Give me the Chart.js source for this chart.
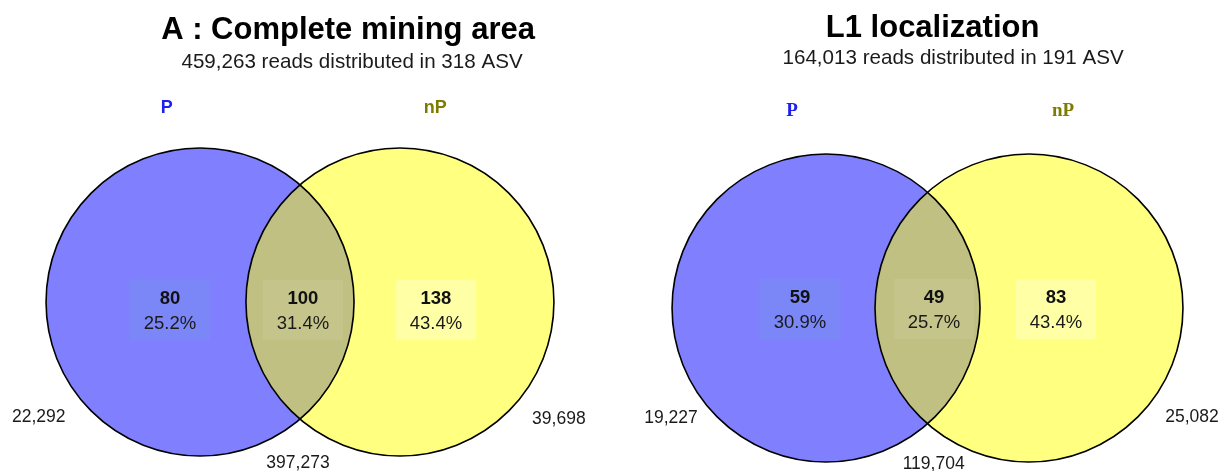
<!DOCTYPE html>
<html>
<head>
<meta charset="utf-8">
<script src="https://cdn.jsdelivr.net/npm/chart.js@4.4.0/dist/chart.umd.min.js"></script>
<style>
  html, body { margin: 0; padding: 0; background: #fff; }
  #wrap { position: relative; width: 1223px; height: 471px; }
  canvas { position: absolute; top: 0; }
</style>
</head>
<body>
<div id="wrap">
  <canvas id="venn-a" width="612" height="471" style="left:0"></canvas>
  <canvas id="venn-l1" width="611" height="471" style="left:612px"></canvas>
</div>
<script>
// sets and regions (P only, shared, nP only)
var setNames = ["P", "nP"];

// panel A : complete mining area
var titleA = "A : Complete mining area";
var totalReadsA = 459263;
var totalAsvA = 318;
var asvA = [80, 100, 138];
var pctA = [25.2, 31.4, 43.4];
var readsA = [22292, 397273, 39698];

// panel L1
var titleL1 = "L1 localization";
var totalReadsL1 = 164013;
var totalAsvL1 = 191;
var asvL1 = [59, 49, 83];
var pctL1 = [30.9, 25.7, 43.4];
var readsL1 = [19227, 119704, 25082];

// layout, in venn units (1 = circle radius)
var layoutA = {
    xRange: [-1.948, 2.026], yRange: [-1.097, 1.961], half: 0.649,
    title: [0.312, 1.705], subtitle: [0.338, 1.519],
    setLabels: [[-0.866, 1.227], [0.879, 1.227]], setFont: 'bold 18px "Liberation Sans", Arial, sans-serif',
    countX: [-0.844, 0.019, 0.883], countY: -0.013, pctY: -0.175, boxY: -0.052,
    readsPos: [[-1.696, -0.779], [-0.013, -1.078], [1.681, -0.792]]
};
var layoutL1 = {
    xRange: [-2.049, 1.919], yRange: [-1.058, 2.0], half: 0.659,
    title: [0.033, 1.758], subtitle: [0.166, 1.584],
    setLabels: [[-0.880, 1.247], [0.880, 1.247]], setFont: 'bold 19px "Liberation Serif", "Times New Roman", serif',
    countX: [-0.828, 0.042, 0.834], countY: 0.032, pctY: -0.130, boxY: -0.006,
    readsPos: [[-1.666, -0.747], [0.040, -1.045], [1.718, -0.740]]
};

var fillColors = ["#8080FF", "#FFFF80"];
var lensColor = "#C0C082";
var boxColors = ["#7B87F6", "#C5C58B", "#FFFFA6"];
var setLabelColors = ["#2020EE", "#7C7C00"];
var sans = '"Liberation Sans", Arial, sans-serif';

var vennText = {
    id: 'vennText',
    afterDatasetsDraw: function (chart) {
        var o = chart.options.plugins.vennText;
        var sx = chart.scales.x, sy = chart.scales.y;
        var ctx = chart.ctx;
        var a = chart.getDatasetMeta(0).data[0];
        var b = chart.getDatasetMeta(1).data[0];
        var ra = a.options.radius, rb = b.options.radius;

        // shared region
        ctx.save();
        ctx.beginPath();
        ctx.arc(a.x, a.y, ra, 0, Math.PI * 2);
        ctx.clip();
        ctx.beginPath();
        ctx.arc(b.x, b.y, rb, 0, Math.PI * 2);
        ctx.fillStyle = lensColor;
        ctx.fill();
        ctx.restore();

        // outlines
        ctx.save();
        ctx.strokeStyle = "#000";
        ctx.lineWidth = 1.6;
        [[a, ra], [b, rb]].forEach(function (c) {
            ctx.beginPath();
            ctx.arc(c[0].x, c[0].y, c[1], 0, Math.PI * 2);
            ctx.stroke();
        });

        var unit = sx.getPixelForValue(1) - sx.getPixelForValue(0);
        ctx.textAlign = 'center';
        ctx.textBaseline = 'alphabetic';

        // boxes + counts
        for (var i = 0; i < 3; i++) {
            var cx = sx.getPixelForValue(o.countX[i]);
            var by = sy.getPixelForValue(o.boxY);
            ctx.fillStyle = boxColors[i];
            ctx.fillRect(cx - 0.26 * unit, by - 0.195 * unit, 0.52 * unit, 0.39 * unit);
            ctx.fillStyle = "#111";
            ctx.font = 'bold 18.5px ' + sans;
            ctx.fillText(String(o.asv[i]), cx, sy.getPixelForValue(o.countY));
            ctx.font = '18.5px ' + sans;
            ctx.fillStyle = "#1a1a1a";
            ctx.fillText(o.pct[i].toFixed(1) + '%', cx, sy.getPixelForValue(o.pctY));
        }

        // reads
        ctx.font = '17.5px ' + sans;
        ctx.fillStyle = "#1a1a1a";
        for (var j = 0; j < 3; j++) {
            ctx.fillText(o.reads[j].toLocaleString('en-US'),
                sx.getPixelForValue(o.readsPos[j][0]), sy.getPixelForValue(o.readsPos[j][1]));
        }

        // set names
        ctx.font = o.setFont;
        for (var k = 0; k < 2; k++) {
            ctx.fillStyle = setLabelColors[k];
            ctx.fillText(setNames[k], sx.getPixelForValue(o.setLabels[k][0]), sy.getPixelForValue(o.setLabels[k][1]));
        }

        // title + subtitle
        ctx.fillStyle = "#000";
        ctx.font = 'bold 31px ' + sans;
        ctx.fillText(o.title, sx.getPixelForValue(o.titlePos[0]), sy.getPixelForValue(o.titlePos[1]));
        ctx.fillStyle = "#1a1a1a";
        ctx.font = '20.6px ' + sans;
        ctx.fillText(o.subtitle, sx.getPixelForValue(o.subtitlePos[0]), sy.getPixelForValue(o.subtitlePos[1]));
        ctx.restore();
    }
};

// circle radius = one x unit, in pixels
function circleRadius(c) {
    var s = c.chart.scales.x;
    return s.getPixelForValue(1) - s.getPixelForValue(0);
}

function drawVenn(canvasId, title, totalReads, totalAsv, asv, pct, reads, lay) {
    return new Chart(document.getElementById(canvasId), {
        type: 'scatter',
        data: {
            datasets: [{
                label: setNames[0],
                data: [{ x: -lay.half, y: 0 }],
                pointBackgroundColor: fillColors[0],
                pointBorderWidth: 0,
                pointRadius: circleRadius,
                clip: false
            },
            {
                label: setNames[1],
                data: [{ x: lay.half, y: 0 }],
                pointBackgroundColor: fillColors[1],
                pointBorderWidth: 0,
                pointRadius: circleRadius,
                clip: false
            }]
        },
        options: {
            responsive: false,
            animation: false,
            events: [],
            layout: { padding: 0, autoPadding: false },
            scales: {
                x: { type: 'linear', min: lay.xRange[0], max: lay.xRange[1], display: false },
                y: { type: 'linear', min: lay.yRange[0], max: lay.yRange[1], display: false }
            },
            plugins: {
                legend: { display: false },
                tooltip: { enabled: false },
                vennText: {
                    title: title,
                    subtitle: totalReads.toLocaleString('en-US') + " reads distributed in " + totalAsv + " ASV",
                    titlePos: lay.title,
                    subtitlePos: lay.subtitle,
                    setLabels: lay.setLabels,
                    setFont: lay.setFont,
                    asv: asv,
                    pct: pct,
                    reads: reads,
                    countX: lay.countX,
                    countY: lay.countY,
                    pctY: lay.pctY,
                    boxY: lay.boxY,
                    readsPos: lay.readsPos
                }
            }
        },
        plugins: [vennText]
    });
}

drawVenn("venn-a", titleA, totalReadsA, totalAsvA, asvA, pctA, readsA, layoutA);
drawVenn("venn-l1", titleL1, totalReadsL1, totalAsvL1, asvL1, pctL1, readsL1, layoutL1);
</script>
</body>
</html>
